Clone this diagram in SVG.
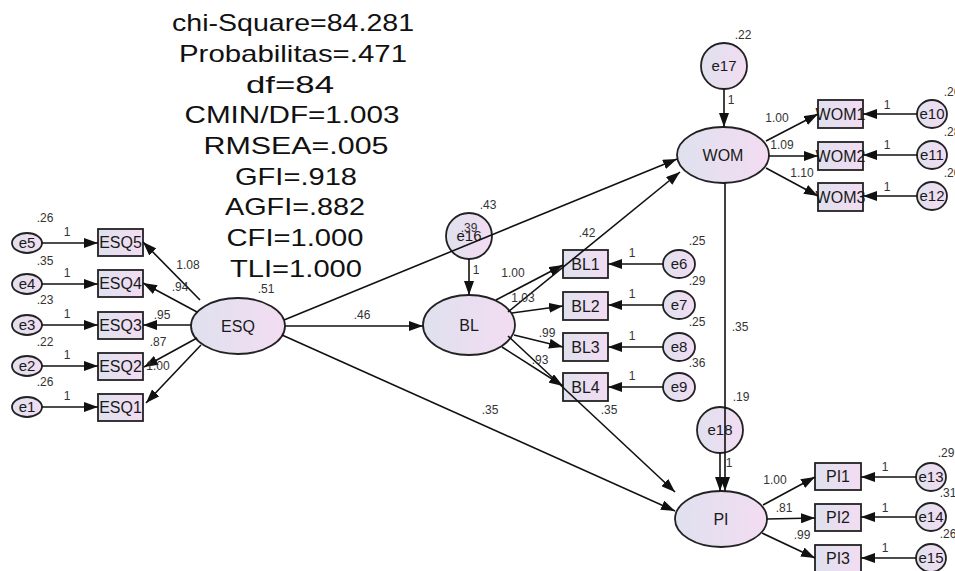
<svg xmlns="http://www.w3.org/2000/svg" width="955" height="571" viewBox="0 0 955 571">
<defs>
<linearGradient id="g" x1="0" y1="0" x2="1" y2="0">
<stop offset="0" stop-color="#dfe1ee"/>
<stop offset="1" stop-color="#f3dcf2"/>
</linearGradient>
<marker id="a" markerUnits="userSpaceOnUse" markerWidth="14" markerHeight="10" viewBox="0 0 14 10" refX="14" refY="5" orient="auto">
<path d="M0,0 L14,5 L0,10 z" fill="#111"/>
</marker>
</defs>
<style>
.n{fill:url(#g);stroke:#222;stroke-width:1.8}
.t{font-family:"Liberation Sans",Arial,sans-serif;font-size:16px;fill:#1a1a1a;text-anchor:middle}
.te{font-family:"Liberation Sans",Arial,sans-serif;font-size:15px;fill:#1a1a1a;text-anchor:middle}
.s{font-family:"Liberation Sans",Arial,sans-serif;font-size:12px;fill:#333;text-anchor:middle}
.h{font-family:"Liberation Sans",Arial,sans-serif;font-size:24px;fill:#111;text-anchor:middle}
.c line{stroke:#111;stroke-width:1.6;marker-end:url(#a)}
</style>
<rect width="955" height="571" fill="#fff"/>
<g id="fit">
<text class="h" x="293" y="31" textLength="242" lengthAdjust="spacingAndGlyphs">chi-Square=84.281</text>
<text class="h" x="293" y="62" textLength="228" lengthAdjust="spacingAndGlyphs">Probabilitas=.471</text>
<text class="h" x="290" y="93" textLength="88" lengthAdjust="spacingAndGlyphs">df=84</text>
<text class="h" x="292" y="123" textLength="215" lengthAdjust="spacingAndGlyphs">CMIN/DF=1.003</text>
<text class="h" x="296" y="154" textLength="185" lengthAdjust="spacingAndGlyphs">RMSEA=.005</text>
<text class="h" x="296" y="185" textLength="122" lengthAdjust="spacingAndGlyphs">GFI=.918</text>
<text class="h" x="295" y="215" textLength="140" lengthAdjust="spacingAndGlyphs">AGFI=.882</text>
<text class="h" x="295" y="246" textLength="137" lengthAdjust="spacingAndGlyphs">CFI=1.000</text>
<text class="h" x="296" y="277" textLength="132" lengthAdjust="spacingAndGlyphs">TLI=1.000</text>
</g>
<g id="ESQ"><ellipse class="n" cx="238" cy="326" rx="47" ry="28"/><text class="t" x="238" y="332">ESQ</text><text class="s" x="266" y="293">.51</text></g>
<g id="BL"><ellipse class="n" cx="469" cy="325" rx="46" ry="30"/><text class="t" x="469" y="331">BL</text></g>
<g id="WOM"><ellipse class="n" cx="723" cy="155" rx="46" ry="28"/><text class="t" x="723" y="161">WOM</text></g>
<g id="PI"><ellipse class="n" cx="721" cy="519" rx="46" ry="28"/><text class="t" x="721" y="525">PI</text></g>
<g id="ESQ5"><rect class="n" x="98" y="229" width="45" height="27"/><text class="t" x="120.5" y="248">ESQ5</text></g>
<g id="ESQ4"><rect class="n" x="98" y="270" width="45" height="27"/><text class="t" x="120.5" y="289">ESQ4</text></g>
<g id="ESQ3"><rect class="n" x="98" y="312" width="45" height="27"/><text class="t" x="120.5" y="331">ESQ3</text></g>
<g id="ESQ2"><rect class="n" x="98" y="353" width="45" height="27"/><text class="t" x="120.5" y="372">ESQ2</text></g>
<g id="ESQ1"><rect class="n" x="98" y="394" width="45" height="27"/><text class="t" x="120.5" y="413">ESQ1</text></g>
<g id="e5"><ellipse class="n" cx="27" cy="243" rx="15" ry="10"/><text class="te" x="27" y="248">e5</text><text class="s" x="45" y="222">.26</text></g>
<g id="e4"><ellipse class="n" cx="27" cy="284" rx="15" ry="10"/><text class="te" x="27" y="289">e4</text><text class="s" x="45" y="265">.35</text></g>
<g id="e3"><ellipse class="n" cx="27" cy="325" rx="15" ry="10"/><text class="te" x="27" y="330">e3</text><text class="s" x="45" y="304">.23</text></g>
<g id="e2"><ellipse class="n" cx="27" cy="366" rx="15" ry="10"/><text class="te" x="27" y="371">e2</text><text class="s" x="45" y="346">.22</text></g>
<g id="e1"><ellipse class="n" cx="27" cy="407" rx="15" ry="10"/><text class="te" x="27" y="412">e1</text><text class="s" x="45" y="386">.26</text></g>
<g id="BL1"><rect class="n" x="563" y="250" width="45" height="28"/><text class="t" x="585.5" y="270">BL1</text></g>
<g id="BL2"><rect class="n" x="563" y="292" width="45" height="28"/><text class="t" x="585.5" y="312">BL2</text></g>
<g id="BL3"><rect class="n" x="563" y="333" width="45" height="28"/><text class="t" x="585.5" y="353">BL3</text></g>
<g id="BL4"><rect class="n" x="563" y="373" width="45" height="28"/><text class="t" x="585.5" y="393">BL4</text></g>
<g id="e6"><ellipse class="n" cx="679" cy="264" rx="16" ry="14"/><text class="te" x="679" y="269">e6</text><text class="s" x="697" y="245">.25</text></g>
<g id="e7"><ellipse class="n" cx="679" cy="305" rx="16" ry="14"/><text class="te" x="679" y="310">e7</text><text class="s" x="697" y="285">.29</text></g>
<g id="e8"><ellipse class="n" cx="679" cy="347" rx="16" ry="14"/><text class="te" x="679" y="352">e8</text><text class="s" x="697" y="326">.25</text></g>
<g id="e9"><ellipse class="n" cx="679" cy="387" rx="16" ry="14"/><text class="te" x="679" y="392">e9</text><text class="s" x="697" y="367">.36</text></g>
<g id="e16"><circle class="n" cx="469" cy="236" r="23"/><text class="te" x="469" y="241">e16</text><text class="s" x="469" y="232">.39</text><text class="s" x="488" y="209">.43</text></g>
<g id="e17"><circle class="n" cx="724" cy="66" r="23"/><text class="te" x="724" y="71">e17</text><text class="s" x="743" y="39">.22</text></g>
<g id="e18"><circle class="n" cx="720" cy="430" r="23"/><text class="te" x="720" y="435">e18</text><text class="s" x="741" y="401">.19</text></g>
<g id="WOM1"><rect class="n" x="818" y="100" width="45" height="28"/><text class="t" x="840.5" y="120">WOM1</text></g>
<g id="WOM2"><rect class="n" x="818" y="142" width="45" height="28"/><text class="t" x="840.5" y="162">WOM2</text></g>
<g id="WOM3"><rect class="n" x="818" y="183" width="45" height="28"/><text class="t" x="840.5" y="203">WOM3</text></g>
<g id="e10"><ellipse class="n" cx="932" cy="114" rx="15" ry="14"/><text class="te" x="932" y="119">e10</text><text class="s" x="952" y="96">.26</text></g>
<g id="e11"><ellipse class="n" cx="932" cy="155" rx="15" ry="14"/><text class="te" x="932" y="160">e11</text><text class="s" x="952" y="136">.28</text></g>
<g id="e12"><ellipse class="n" cx="932" cy="196" rx="15" ry="14"/><text class="te" x="932" y="201">e12</text><text class="s" x="952" y="177">.20</text></g>
<g id="PI1"><rect class="n" x="815" y="463" width="46" height="27"/><text class="t" x="838" y="482">PI1</text></g>
<g id="PI2"><rect class="n" x="815" y="504" width="46" height="27"/><text class="t" x="838" y="523">PI2</text></g>
<g id="PI3"><rect class="n" x="815" y="545" width="46" height="27"/><text class="t" x="838" y="564">PI3</text></g>
<g id="e13"><ellipse class="n" cx="931" cy="477" rx="15" ry="14"/><text class="te" x="931" y="482">e13</text><text class="s" x="946" y="457">.29</text></g>
<g id="e14"><ellipse class="n" cx="931" cy="517" rx="15" ry="14"/><text class="te" x="931" y="522">e14</text><text class="s" x="948" y="497">.31</text></g>
<g id="e15"><ellipse class="n" cx="931" cy="558" rx="15" ry="14"/><text class="te" x="931" y="563">e15</text><text class="s" x="948" y="538">.26</text></g>
<g id="connectors" class="c">
<line x1="42" y1="243" x2="98" y2="243"/>
<line x1="42" y1="284" x2="98" y2="284"/>
<line x1="42" y1="325" x2="98" y2="325"/>
<line x1="42" y1="366" x2="98" y2="366"/>
<line x1="42" y1="407" x2="98" y2="407"/>
<line x1="200" y1="300" x2="143" y2="242"/>
<line x1="197" y1="312" x2="143" y2="283"/>
<line x1="191" y1="325" x2="143" y2="325"/>
<line x1="197" y1="338" x2="144" y2="367"/>
<line x1="201" y1="345" x2="146" y2="403"/>
<line x1="285" y1="326" x2="423" y2="326"/>
<line x1="284" y1="320" x2="677" y2="159"/>
<line x1="282" y1="335" x2="675" y2="511"/>
<line x1="469" y1="259" x2="469" y2="295"/>
<line x1="496" y1="300" x2="563" y2="265"/>
<line x1="512" y1="313" x2="563" y2="306"/>
<line x1="514" y1="335" x2="563" y2="347"/>
<line x1="502" y1="347" x2="563" y2="386"/>
<line x1="508" y1="312" x2="680" y2="172"/>
<line x1="508" y1="336" x2="675" y2="492"/>
<line x1="663" y1="264" x2="608" y2="264"/>
<line x1="663" y1="305" x2="608" y2="305"/>
<line x1="663" y1="347" x2="608" y2="347"/>
<line x1="663" y1="387" x2="608" y2="387"/>
<line x1="724" y1="89" x2="724" y2="127"/>
<line x1="766" y1="141" x2="818" y2="114"/>
<line x1="769" y1="156" x2="818" y2="156"/>
<line x1="766" y1="168" x2="818" y2="196"/>
<line x1="917" y1="114" x2="863" y2="114"/>
<line x1="917" y1="155" x2="863" y2="155"/>
<line x1="917" y1="196" x2="863" y2="196"/>
<line x1="725" y1="183" x2="725" y2="491"/>
<line x1="720" y1="453" x2="720" y2="491"/>
<line x1="763" y1="505" x2="815" y2="477"/>
<line x1="767" y1="519" x2="815" y2="518"/>
<line x1="762" y1="533" x2="815" y2="558"/>
<line x1="916" y1="477" x2="861" y2="477"/>
<line x1="916" y1="517" x2="861" y2="517"/>
<line x1="916" y1="558" x2="861" y2="558"/>
</g>
<g id="labels">
<text class="s" x="67" y="236">1</text>
<text class="s" x="67" y="277">1</text>
<text class="s" x="67" y="318">1</text>
<text class="s" x="67" y="359">1</text>
<text class="s" x="67" y="400">1</text>
<text class="s" x="188" y="269">1.08</text>
<text class="s" x="180" y="291">.94</text>
<text class="s" x="162" y="319">.95</text>
<text class="s" x="158" y="346">.87</text>
<text class="s" x="158" y="370">1.00</text>
<text class="s" x="362" y="319">.46</text>
<text class="s" x="476" y="274">1</text>
<text class="s" x="513" y="277">1.00</text>
<text class="s" x="523" y="302">1.03</text>
<text class="s" x="547" y="337">.99</text>
<text class="s" x="540" y="364">.93</text>
<text class="s" x="587" y="237">.42</text>
<text class="s" x="609" y="414">.35</text>
<text class="s" x="490" y="414">.35</text>
<text class="s" x="632" y="257">1</text>
<text class="s" x="632" y="298">1</text>
<text class="s" x="632" y="340">1</text>
<text class="s" x="632" y="380">1</text>
<text class="s" x="731" y="104">1</text>
<text class="s" x="777" y="122">1.00</text>
<text class="s" x="782" y="149">1.09</text>
<text class="s" x="802" y="177">1.10</text>
<text class="s" x="887" y="109">1</text>
<text class="s" x="887" y="149">1</text>
<text class="s" x="887" y="191">1</text>
<text class="s" x="740" y="331">.35</text>
<text class="s" x="729" y="467">1</text>
<text class="s" x="775" y="484">1.00</text>
<text class="s" x="784" y="512">.81</text>
<text class="s" x="802" y="539">.99</text>
<text class="s" x="885" y="471">1</text>
<text class="s" x="885" y="512">1</text>
<text class="s" x="885" y="552">1</text>
</g>
</svg>
